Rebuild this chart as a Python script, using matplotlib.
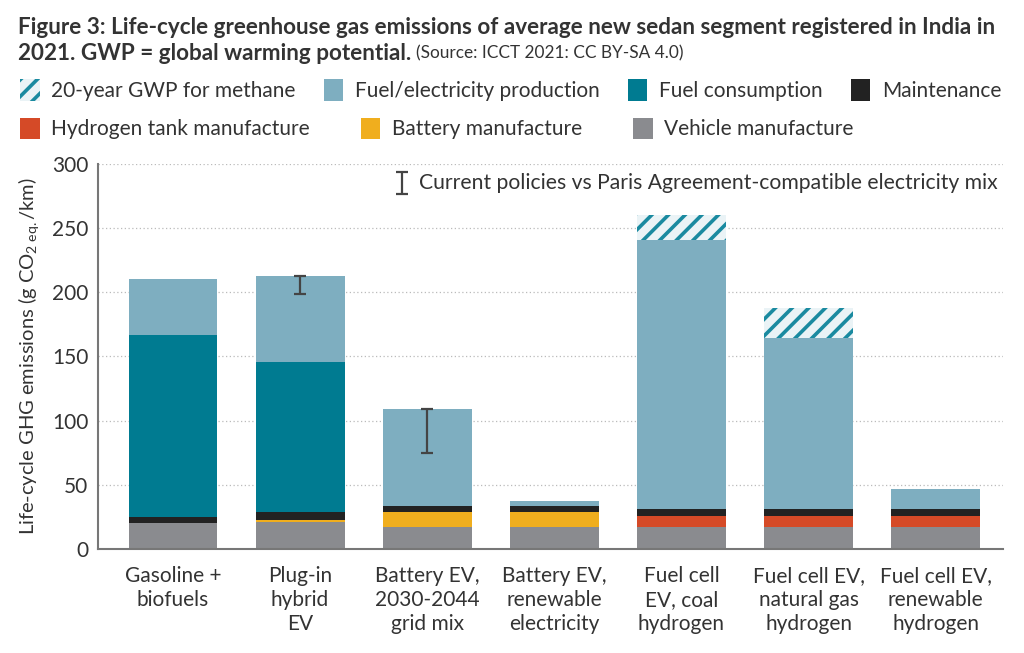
import matplotlib
matplotlib.use('Agg')
import matplotlib.pyplot as plt
from matplotlib.patches import Patch
import numpy as np

plt.rcParams['font.family'] = ['Lato', 'DejaVu Sans']
plt.rcParams['mathtext.fontset'] = 'custom'
plt.rcParams['mathtext.rm'] = 'Lato'
plt.rcParams['mathtext.it'] = 'Lato'
plt.rcParams['hatch.linewidth'] = 2.6
plt.rcParams['hatch.color'] = '#1a8aa0'

# data (g CO2 eq./km)
categories = ['Gasoline +\nbiofuels', 'Plug-in\nhybrid\nEV', 'Battery EV,\n2030-2044\ngrid mix',
              'Battery EV,\nrenewable\nelectricity', 'Fuel cell\nEV, coal\nhydrogen',
              'Fuel cell EV,\nnatural gas\nhydrogen', 'Fuel cell EV,\nrenewable\nhydrogen']
vehicle = [20, 21, 17.5, 17.5, 17.5, 17.5, 17.5]
battery = [0, 1.5, 11, 11, 0, 0, 0]
h2_tank = [0, 0, 0, 0, 8, 8, 8]
maintenance = [5, 6, 4.6, 4.6, 5.7, 5.7, 5.7]
fuel_consumption = [142, 117.5, 0, 0, 0, 0, 0]
fuel_production = [43.5, 67, 76, 4.6, 209.5, 133.5, 15.7]
methane_20yr = [0, 0, 0, 0, 19.5, 23.4, 0]

err_idx = [1, 2]
err_low = [199, 75]
err_high = [213, 109.2]

c_text = '#333333'
c_methane = '#1a8aa0'
c_prod = '#7eaec0'
c_cons = '#007b91'
c_maint = '#222222'
c_tank = '#d54a27'
c_batt = '#f0ae1e'
c_veh = '#8a8b8f'

fig = plt.figure(figsize=(10.24, 6.53), dpi=100)
ax = fig.add_axes([0.0957, 0.1593, 0.8838, 0.5896])

x = np.arange(len(categories))
w = 0.70
bottom = np.zeros(len(categories))
layers = [(vehicle, c_veh), (battery, c_batt), (h2_tank, c_tank), (maintenance, c_maint),
          (fuel_consumption, c_cons), (fuel_production, c_prod)]
for vals, col in layers:
    vals = np.array(vals, dtype=float)
    ax.bar(x, vals, w, bottom=bottom, color=col, edgecolor='none', zorder=2)
    bottom += vals
ax.bar(x, methane_20yr, w, bottom=bottom, facecolor='#eaf3f6', edgecolor=c_methane,
       hatch='//', linewidth=0, zorder=2)

# error bars
for i, lo, hi in zip(err_idx, err_low, err_high):
    ax.errorbar([x[i]], [(lo + hi) / 2], yerr=[[(hi - lo) / 2], [(hi - lo) / 2]],
                fmt='none', ecolor='#444444', elinewidth=1.6, capsize=4.5, capthick=1.6, zorder=3)

# error bar legend
ax.errorbar([0.3355], [0.95], yerr=[[0.028]], fmt='none', ecolor='#444444', elinewidth=1.6,
            capsize=4.5, capthick=1.6, transform=ax.transAxes, clip_on=False)
ax.text(0.3545, 0.95, 'Current policies vs Paris Agreement-compatible electricity mix',
        transform=ax.transAxes, fontsize=15.2, color=c_text, va='center', ha='left')

ax.set_xlim(-0.59, 6.53)
ax.set_ylim(0, 300)
ax.set_yticks(range(0, 301, 50))
ax.set_xticks(x)
ax.set_xticklabels(categories, fontsize=15, color=c_text, linespacing=1.25)
ax.tick_params(axis='both', length=0, labelsize=15, labelcolor=c_text)
ax.tick_params(axis='y', pad=7)
ax.tick_params(axis='x', pad=12)
for yv in range(50, 301, 50):
    ax.axhline(yv, color='#bbbbbb', linestyle=(0, (1, 2)), linewidth=0.9, zorder=1)
for s in ['top', 'right']:
    ax.spines[s].set_visible(False)
for s in ['left', 'bottom']:
    ax.spines[s].set_color('#777777')
    ax.spines[s].set_linewidth(1.5)
ax.set_ylabel('Life-cycle GHG emissions (g CO$_{2\\ \\mathrm{eq.}}$/km)', fontsize=14.5,
              color=c_text, labelpad=8)

# legend rows
row1 = [Patch(facecolor='#eaf3f6', edgecolor=c_methane, hatch='//', linewidth=0, label='20-year GWP for methane'),
        Patch(facecolor=c_prod, label='Fuel/electricity production'),
        Patch(facecolor=c_cons, label='Fuel consumption'),
        Patch(facecolor=c_maint, label='Maintenance')]
row2 = [Patch(facecolor=c_tank, label='Hydrogen tank manufacture'),
        Patch(facecolor=c_batt, label='Battery manufacture'),
        Patch(facecolor=c_veh, label='Vehicle manufacture')]
for handles, ypos, colsp in [(row1, 0.862, 1.35), (row2, 0.803, 2.45)]:
    leg = fig.legend(handles=handles, loc='center left', bbox_to_anchor=(0.001, ypos), ncol=len(handles),
                     frameon=False, fontsize=15, handlelength=0.95, handleheight=1.2,
                     handletextpad=0.55, columnspacing=colsp, labelcolor=c_text)

# title
fig.text(0.0176, 0.958, 'Figure 3: Life-cycle greenhouse gas emissions of average new sedan segment registered in India in',
         fontsize=16.2, fontweight='bold', color=c_text, va='center')
t2 = fig.text(0.0176, 0.918, '2021. GWP = global warming potential.', fontsize=16.2,
              fontweight='bold', color=c_text, va='center')
fig.canvas.draw()
bb = t2.get_window_extent(renderer=fig.canvas.get_renderer())
fig.text(bb.x1 / fig.bbox.width + 0.005, 0.918, '(Source: ICCT 2021: CC BY-SA 4.0)', fontsize=12.4,
         color=c_text, va='center')

fig.savefig('out.png', dpi=100)
